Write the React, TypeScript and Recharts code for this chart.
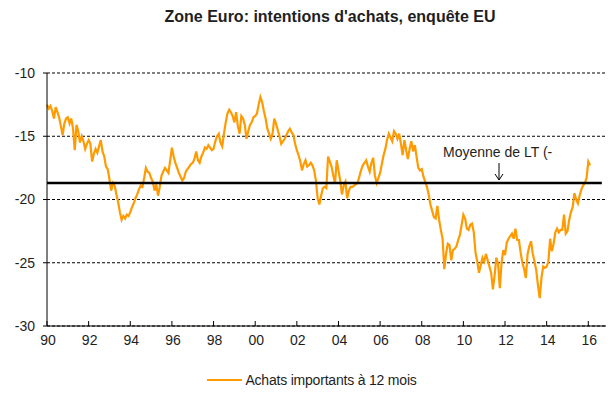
import React from 'react';
import { LineChart, Line, XAxis, YAxis, CartesianGrid, ReferenceLine, Legend } from 'recharts';

const START_YEAR = 1990;

// Monthly values, Jan 1990 - Dec 1999
const values1990s = [
  -12.5, -12.8, -12.6, -13.0, -13.6, -12.7, -13.1, -13.5, -14.2, -14.9, -14.0, -13.6,
  -13.5, -14.0, -13.6, -14.4, -16.1, -14.1, -14.6, -15.5, -15.0, -15.4, -16.0, -15.6,
  -15.3, -15.6, -17.0, -16.4, -16.0, -16.3, -15.8, -15.3, -16.2, -16.6, -17.4, -17.6,
  -18.4, -19.3, -18.7, -18.9, -19.6, -20.2, -21.0, -21.6, -21.3, -21.5, -21.2, -21.3,
  -21.0, -20.6, -20.3, -19.9, -19.6, -19.2, -18.9, -19.0, -18.3, -17.5, -17.8, -17.9,
  -18.3, -18.6, -19.3, -18.8, -19.7, -19.0, -18.1, -17.8, -17.5, -17.7, -17.9, -16.9,
  -15.9, -16.6, -17.1, -17.5, -17.9, -18.2, -18.5, -18.3, -17.8, -17.6, -17.4, -17.2,
  -17.1, -16.8, -16.2, -16.9, -17.1, -16.6, -16.3, -15.9, -16.0, -15.7, -15.9, -16.1,
  -16.0, -15.4, -15.0, -14.8, -15.5, -15.8, -14.8, -13.9, -13.2, -12.9, -13.1, -13.4,
  -13.9, -13.1, -14.2, -14.8, -13.4, -13.6, -14.1, -15.2, -14.6, -14.1, -13.9, -13.5,
];

// Monthly values, Jan 2000 - Dec 2009
const values2000s = [
  -13.4, -13.2, -12.5, -11.9, -12.3, -13.0, -13.6, -14.4, -14.8, -15.2, -14.8, -13.6,
  -14.0, -14.5, -15.0, -15.6, -15.4, -15.2, -14.9, -14.6, -14.4, -14.7, -14.9, -15.6,
  -16.1, -16.5, -17.0, -17.7, -17.2, -16.9, -17.4, -17.3, -17.1, -17.3, -17.7, -18.5,
  -19.9, -20.4, -19.7, -19.1, -19.0, -19.1, -16.6, -17.0, -17.4, -18.1, -18.7, -16.9,
  -17.7, -18.5, -19.6, -18.9, -18.6, -19.9, -19.3, -19.0, -19.0, -18.9, -18.8, -18.7,
  -18.2, -17.7, -17.3, -17.1, -16.9, -17.4, -17.8, -17.1, -16.7, -18.1, -18.7, -18.3,
  -17.9, -17.2, -16.5, -16.0, -15.3, -14.8, -15.1, -15.4, -14.6, -14.8, -15.2, -14.8,
  -15.6, -16.5, -15.3, -16.1, -16.8, -16.0, -15.4, -16.2, -15.7, -16.6, -17.5, -17.7,
  -17.6, -18.2, -18.6, -19.0, -19.6, -20.4, -20.9, -21.4, -21.5, -20.5, -21.6, -22.4,
  -23.1, -25.5, -24.3, -23.5, -23.6, -24.8, -24.0, -23.9, -23.7, -23.2, -22.8, -22.0,
];

// Monthly values, Jan 2010 - Feb 2016
const values2010s = [
  -21.2, -21.5, -22.3, -22.4, -22.0, -21.9, -22.6, -24.2, -24.9, -25.8, -25.2, -24.6,
  -24.9, -24.3, -24.8, -25.3, -25.8, -27.1, -26.0, -24.6, -25.1, -27.0, -25.0, -24.0,
  -24.4, -23.4, -23.1, -22.9, -22.7, -23.1, -22.3, -23.2, -23.2, -24.2, -25.0, -25.5,
  -26.2, -24.3, -23.7, -23.3, -24.3, -24.9, -25.6, -26.8, -27.8, -26.2, -25.3, -25.4,
  -25.3, -24.9, -23.1, -24.1, -23.5, -22.6, -22.3, -22.6, -22.4, -22.4, -21.2, -22.7,
  -22.5, -21.6, -21.0, -20.6, -19.5, -20.0, -20.3, -19.7, -19.2, -18.9, -18.7, -18.3,
  -17.0, -17.3,
];

const xTicks = [1990, 1992, 1994, 1996, 1998, 2000, 2002, 2004, 2006, 2008, 2010, 2012, 2014, 2016];
const yTicks = [-30, -25, -20, -15, -10];
const longTermMean = -18.7;
const meanStart = 1990;
const meanEnd = 2016.65;
const seriesName = 'Achats importants à 12 mois';
const titleText = "Zone Euro: intentions d'achats, enquête EU";
const meanLabel = 'Moyenne de LT (-';

const monthly = [...values1990s, ...values2000s, ...values2010s];
const data = monthly.map((v, i) => ({ t: START_YEAR + i / 12, v }));

const ORANGE = '#FF9A00';
const TEXT = '#1e1e1e';
const FONT = '"Liberation Sans", Arial, sans-serif';

const XTick = (props: any) => {
  const { x, y, payload } = props;
  const label = String(Math.round(payload.value) % 100).padStart(2, '0');
  return (
    <g>
      <line x1={x} x2={x} y1={y - 9} y2={y - 14} stroke="#000" strokeWidth={1} />
      <text x={x + 1} y={y} dy="0.71em" textAnchor="middle" fontSize={14} fill={TEXT} fontFamily={FONT}>
        {label}
      </text>
    </g>
  );
};

const LegendContent = () => (
  <div style={{ display: 'flex', justifyContent: 'center', alignItems: 'center', height: 20, fontFamily: FONT, paddingLeft: 18 }}>
    <svg width={36} height={20} style={{ display: 'block' }}>
      <line x1={0} x2={35} y1={10} y2={10} stroke={ORANGE} strokeWidth={2} />
    </svg>
    <span style={{ fontSize: 14, color: TEXT, marginLeft: 2, whiteSpace: 'nowrap', letterSpacing: -0.2 }}>{seriesName}</span>
  </div>
);

export default function App() {
  return (
    <div style={{ position: 'absolute', left: 0, top: 0, width: 616, height: 398, background: '#fff', fontFamily: FONT }}>
      <div
        style={{
          position: 'absolute', left: 0, top: 8, width: 660, textAlign: 'center',
          fontSize: 16, fontWeight: 'bold', color: TEXT, lineHeight: '18px', whiteSpace: 'nowrap',
        }}
      >
        {titleText}
      </div>
      <LineChart width={616} height={398} data={data} margin={{ top: 73, right: 10, bottom: 8, left: 0 }}>
        <CartesianGrid horizontal vertical={false} stroke="#000" strokeDasharray="3 2" strokeWidth={1} />
        <XAxis
          dataKey="t"
          type="number"
          domain={[1990, 2016.85]}
          ticks={xTicks}
          interval={0}
          height={44}
          axisLine={{ stroke: '#000', strokeWidth: 1 }}
          tickLine={false}
          tickSize={0}
          tickMargin={9}
          tick={<XTick />}
        />
        <YAxis
          type="number"
          domain={[-30, -10]}
          ticks={yTicks}
          interval={0}
          width={47}
          axisLine={{ stroke: '#000', strokeWidth: 1 }}
          tickLine={{ stroke: '#000' }}
          tickSize={4}
          tickMargin={8}
          tick={{ fontSize: 14, fill: TEXT, fontFamily: FONT }}
        />
        <Line
          type="linear"
          dataKey="v"
          name={seriesName}
          stroke={ORANGE}
          strokeWidth={2.2}
          dot={false}
          isAnimationActive={false}
        />
        <ReferenceLine
          segment={[{ x: meanStart, y: longTermMean }, { x: meanEnd, y: longTermMean }]}
          stroke="#000"
          strokeWidth={2.5}
          ifOverflow="visible"
        />
        <Legend verticalAlign="bottom" height={20} content={<LegendContent />} />
      </LineChart>
      <div style={{ position: 'absolute', left: 443, top: 143, fontSize: 14, lineHeight: '18px', color: TEXT, whiteSpace: 'nowrap' }}>
        {meanLabel}
      </div>
      <svg style={{ position: 'absolute', left: 493, top: 162, overflow: 'visible' }} width={12} height={20}>
        <path d="M6 1 V18 M2 12 L6 18 L10 12" fill="none" stroke="#000" strokeWidth={1} />
      </svg>
    </div>
  );
}
